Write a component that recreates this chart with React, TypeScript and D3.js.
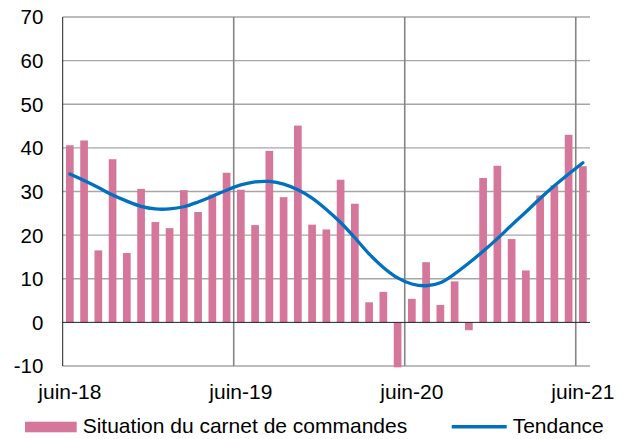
import React from "react";
import * as d3 from "d3";

const months = [
  "juin-18","juil-18","août-18","sept-18","oct-18","nov-18","déc-18","janv-19","févr-19","mars-19","avr-19","mai-19",
  "juin-19","juil-19","août-19","sept-19","oct-19","nov-19","déc-19","janv-20","févr-20","mars-20","avr-20","mai-20",
  "juin-20","juil-20","août-20","sept-20","oct-20","nov-20","déc-20","janv-21","févr-21","mars-21","avr-21","mai-21",
  "juin-21"
];

const carnet = [
  40.6, 41.7, 16.5, 37.4, 15.9, 30.6, 23.0, 21.6, 30.3, 25.3, 29.3, 34.3,
  30.4, 22.3, 39.3, 28.7, 45.1, 22.4, 21.3, 32.7, 27.2, 4.6, 7.0, -10.3,
  5.4, 13.8, 4.0, 9.4, -1.8, 33.1, 35.9, 19.1, 11.9, 29.1, 31.4, 43.0,
  35.8
];

const tendance = [
  34.0, 32.5, 30.9, 29.2, 27.8, 26.6, 26.0, 26.0, 26.5, 27.6, 28.9, 30.3,
  31.5, 32.2, 32.3, 31.7, 30.4, 28.5, 25.9, 22.9, 19.4, 15.7, 12.6, 10.2,
  8.8, 8.4, 9.1, 11.1, 13.6, 16.3, 19.2, 22.3, 25.3, 28.4, 31.3, 34.0,
  36.6
];

const yTicks = [-10, 0, 10, 20, 30, 40, 50, 60, 70];
const xTickLabels = ["juin-18", "juin-19", "juin-20", "juin-21"];
const legendLabels = ["Situation du carnet de commandes", "Tendance"];

const W = 628;
const H = 439;
const left = 62.7;
const right = 590;
const top = 17;
const bottom = 366;
const barColor = "#d5779b";
const lineColor = "#0070c0";
const font = "'Liberation Sans', Arial, sans-serif";

export default function App() {
  const x = d3
    .scaleBand<string>()
    .domain(months)
    .range([left, right])
    .paddingInner(0.46)
    .paddingOuter(0.23);
  const y = d3.scaleLinear().domain([-10, 70]).range([bottom, top]);
  const step = x.step();
  const bw = x.bandwidth();
  const gapHalf = (step - bw) / 2;
  const center = (m: string) => (x(m) as number) + bw / 2;

  const line = d3
    .line<number>()
    .x((_, i) => center(months[i]))
    .y((d) => y(d))
    .curve(d3.curveCatmullRom.alpha(0.5));

  return (
    <svg
      width={W}
      height={H}
      style={{ position: "absolute", left: 0, top: 0, display: "block", background: "#fff" }}
      fontFamily={font}
    >
      {/* horizontal gridlines */}
      {yTicks.map((t) =>
        t === 0 ? null : (
          <line key={"h" + t} x1={left} x2={right} y1={y(t)} y2={y(t)} stroke="#a6a6a6" strokeWidth={1.3} />
        )
      )}
      {/* vertical gridlines at juin */}
      {xTickLabels.slice(1).map((m) => {
        const xx = (x(m) as number) - gapHalf;
        return <line key={"v" + m} x1={xx} x2={xx} y1={top} y2={bottom} stroke="#858585" strokeWidth={1.6} />;
      })}
      {/* bars */}
      {carnet.map((v, i) => (
        <rect
          key={"b" + i}
          x={x(months[i]) as number}
          width={bw}
          y={Math.min(y(v), y(0))}
          height={Math.abs(y(v) - y(0))}
          fill={barColor}
        />
      ))}
      {/* zero line */}
      <line x1={left} x2={right} y1={y(0)} y2={y(0)} stroke="#222" strokeWidth={1} />
      {/* left axis */}
      <line x1={left} x2={left} y1={top} y2={bottom} stroke="#222" strokeWidth={1} />
      {/* trend line */}
      <path d={line(tendance) || ""} fill="none" stroke={lineColor} strokeWidth={3.3} strokeLinecap="round" />
      {/* y tick labels */}
      {yTicks.map((t) => (
        <text key={"yt" + t} x={43.3} y={y(t) + 7.4} textAnchor="end" fontSize={20.5} fill="#000">
          {t}
        </text>
      ))}
      {/* x tick labels */}
      {xTickLabels.map((m) => (
        <text key={"xt" + m} x={center(m)} y={399.3} textAnchor="middle" fontSize={21} fill="#000">
          {m}
        </text>
      ))}
      {/* legend */}
      <rect x={25} y={421.7} width={51.7} height={10.6} fill={barColor} />
      <text x={82.7} y={433.3} fontSize={21} fill="#000">
        {legendLabels[0]}
      </text>
      <line x1={451.7} x2={506.7} y1={426.7} y2={426.7} stroke={lineColor} strokeWidth={3.5} />
      <text x={512.7} y={433.3} fontSize={21} fill="#000">
        {legendLabels[1]}
      </text>
    </svg>
  );
}
